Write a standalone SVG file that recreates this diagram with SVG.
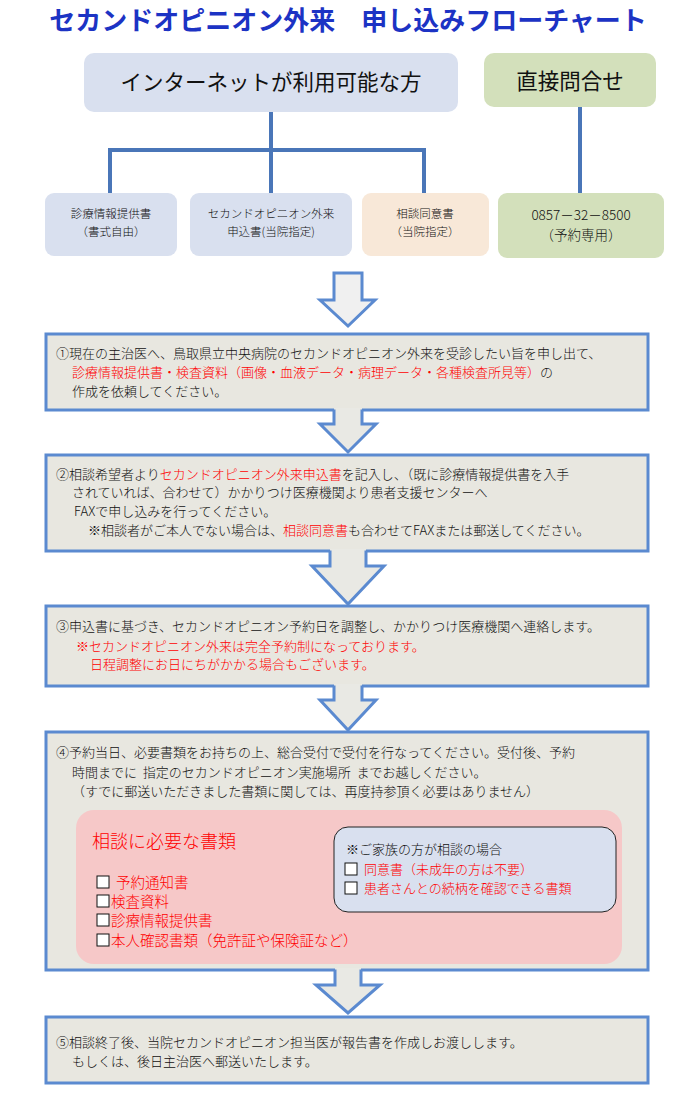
<svg xmlns="http://www.w3.org/2000/svg" width="696" height="1098" viewBox="0 0 696 1098">
<style>
.t{font-family:"Noto Sans CJK JP","Noto Sans",sans-serif;font-size:13px;font-weight:300;fill:#111}
.r{fill:#ff0000}
.box{fill:#e8e7e0;stroke:#5b8ad0;stroke-width:3}
.af{fill:#e9e9e4;stroke:none}
.as{fill:none;stroke:#5b8ad0;stroke-width:3;stroke-linejoin:miter}
.con{stroke:#4a76b8;stroke-width:4;fill:none}
.cb{fill:#fff;stroke:#111;stroke-width:1}
</style>
<rect width="696" height="1098" fill="#fff"/>
<text x="348" y="30" text-anchor="middle" style="font-family:'Noto Sans CJK JP',sans-serif;font-size:26px;font-weight:bold;fill:#1c33c4">セカンドオピニオン外来　申し込みフローチャート</text>

<g id="connectors">
<line class="con" x1="271" y1="110" x2="271" y2="195"/>
<polyline class="con" points="110,195 110,150 424,150 424,195"/>
<line class="con" x1="580" y1="105" x2="580" y2="194"/>
</g>

<g id="internet">
<rect x="84" y="53" width="374" height="59" rx="10" fill="#d9e0ef"/>
<text class="t" x="271" y="90" text-anchor="middle" style="font-size:21.5px;font-weight:400">インターネットが利用可能な方</text>
</g>
<g id="direct">
<rect x="484" y="53" width="172" height="54" rx="10" fill="#d3e0bb"/>
<text class="t" x="570" y="89" text-anchor="middle" style="font-size:21.5px;font-weight:400">直接問合せ</text>
</g>

<g id="doc1">
<rect x="45" y="193" width="132" height="63" rx="9" fill="#d9e0ef"/>
<text class="t" x="111" y="218" text-anchor="middle" style="font-size:11.5px">診療情報提供書</text>
<text class="t" x="111" y="236" text-anchor="middle" style="font-size:11.5px">（書式自由）</text>
</g>
<g id="doc2">
<rect x="190" y="193" width="162" height="63" rx="9" fill="#d9e0ef"/>
<text class="t" x="271" y="218" text-anchor="middle" style="font-size:11.5px">セカンドオピニオン外来</text>
<text class="t" x="271" y="236" text-anchor="middle" style="font-size:11.5px">申込書(当院指定)</text>
</g>
<g id="doc3">
<rect x="362" y="193" width="127" height="63" rx="9" fill="#f8e8d8"/>
<text class="t" x="425" y="218" text-anchor="middle" style="font-size:11.5px">相談同意書</text>
<text class="t" x="425" y="236" text-anchor="middle" style="font-size:11.5px">（当院指定）</text>
</g>
<g id="phone">
<rect x="498" y="193" width="166" height="65" rx="9" fill="#d3e0bb"/>
<text class="t" x="581" y="220" text-anchor="middle" style="font-size:13.5px">0857－32－8500</text>
<text class="t" x="581" y="240" text-anchor="middle" style="font-size:13.5px">（予約専用）</text>
</g>

<g id="arrow0">
<polygon class="af" points="334,273 362,273 362,300 375,300 348,326 320,300 334,300" style="fill:#f0f0f0"/>
<polygon class="as" points="334,273 362,273 362,300 375,300 348,326 320,300 334,300"/>
</g>

<g id="step1">
<rect class="box" x="46" y="334" width="602" height="76"/>
<text class="t" x="56" y="358">①現在の主治医へ、鳥取県立中央病院のセカンドオピニオン外来を受診したい旨を申し出て、</text>
<text class="t" x="72" y="377"><tspan class="r">診療情報提供書・検査資料（画像・血液データ・病理データ・各種検査所見等）</tspan>の</text>
<text class="t" x="72" y="396">作成を依頼してください。</text>
</g>

<g id="step2">
<rect class="box" x="46" y="455" width="602" height="96"/>
<text class="t" x="56" y="479">②相談希望者より<tspan class="r">セカンドオピニオン外来申込書</tspan>を記入し、（既に診療情報提供書を入手</text>
<text class="t" x="72" y="497">されていれば、合わせて）かかりつけ医療機関より患者支援センターへ</text>
<text class="t" x="74" y="516">FAXで申し込みを行ってください。</text>
<text class="t" x="88" y="535">※相談者がご本人でない場合は、<tspan class="r">相談同意書</tspan>も合わせてFAXまたは郵送してください。</text>
</g>

<g id="step3">
<rect class="box" x="46" y="606" width="602" height="80"/>
<text class="t" x="56" y="631">③申込書に基づき、セカンドオピニオン予約日を調整し、かかりつけ医療機関へ連絡します。</text>
<text class="t r" x="76" y="651">※セカンドオピニオン外来は完全予約制になっております。</text>
<text class="t r" x="90" y="669">日程調整にお日にちがかかる場合もございます。</text>
</g>

<g id="step4">
<rect class="box" x="46" y="732" width="602" height="238"/>
<text class="t" x="56" y="757">④予約当日、必要書類をお持ちの上、総合受付で受付を行なってください。受付後、予約</text>
<text class="t" x="72" y="777">時間までに&#160;&#160;指定のセカンドオピニオン実施場所&#160;&#160;までお越しください。</text>
<text class="t" x="72" y="796">（すでに郵送いただきました書類に関しては、再度持参頂く必要はありません）</text>
<rect x="76" y="810" width="546" height="154" rx="18" fill="#f6c8c8"/>
<text class="t r" x="92" y="848" style="font-size:18px">相談に必要な書類</text>
<rect class="cb" x="97" y="876" width="12" height="12"/>
<text class="t r" x="116" y="888" style="font-size:14.5px">予約通知書</text>
<rect class="cb" x="97" y="895" width="12" height="12"/>
<text class="t r" x="111" y="907" style="font-size:14.5px">検査資料</text>
<rect class="cb" x="97" y="914" width="12" height="12"/>
<text class="t r" x="111" y="926" style="font-size:14.5px">診療情報提供書</text>
<rect class="cb" x="97" y="934" width="12" height="12"/>
<text class="t r" x="111" y="946" style="font-size:14.5px">本人確認書類（免許証や保険証など）</text>
</g>

<g id="family">
<rect x="334" y="827" width="282" height="85" rx="14" fill="#d9e0ef" stroke="#222" stroke-width="1"/>
<text class="t" x="346" y="854" style="font-size:13px">※ご家族の方が相談の場合</text>
<rect class="cb" x="345" y="863" width="12" height="12"/>
<text class="t r" x="364" y="874" style="font-size:13px">同意書（未成年の方は不要）</text>
<rect class="cb" x="345" y="882" width="12" height="12"/>
<text class="t r" x="364" y="893" style="font-size:13px">患者さんとの続柄を確認できる書類</text>
</g>

<g id="step5">
<rect class="box" x="46" y="1017" width="602" height="66"/>
<text class="t" x="56" y="1047">⑤相談終了後、当院セカンドオピニオン担当医が報告書を作成しお渡しします。</text>
<text class="t" x="72" y="1066">もしくは、後日主治医へ郵送いたします。</text>
</g>

<g id="arrows">
<polygon class="af" points="334,408 362,408 362,424 376,424 348,452 320,424 334,424"/>
<polyline class="as" points="334,409.5 334,424 320,424 348,452 376,424 362,424 362,409.5"/>
<polygon class="af" points="330,549 366,549 366,566 384,566 348,604 312,566 330,566"/>
<polyline class="as" points="330,550.5 330,566 312,566 348,604 384,566 366,566 366,550.5"/>
<polygon class="af" points="334,684 362,684 362,700 376,700 348,730 320,700 334,700"/>
<polyline class="as" points="334,685.5 334,700 320,700 348,730 376,700 362,700 362,685.5"/>
<polygon class="af" points="335,968 361,968 361,985 380,985 348,1013 316,985 335,985"/>
<polyline class="as" points="335,969.5 335,985 316,985 348,1013 380,985 361,985 361,969.5"/>
</g>
</svg>
